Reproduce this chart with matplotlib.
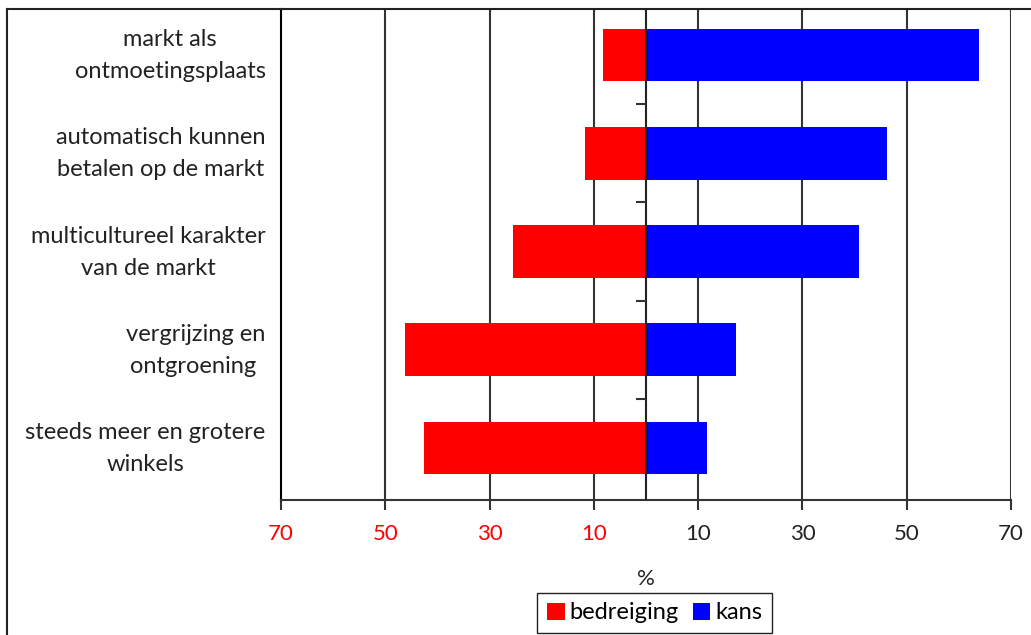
import matplotlib
matplotlib.use("Agg")
import matplotlib.pyplot as plt
from matplotlib.lines import Line2D
from matplotlib.markers import TICKLEFT
from matplotlib.transforms import ScaledTranslation

plt.rcParams["font.family"] = ["Lato", "DejaVu Sans"]

categories = [
    "markt als\nontmoetingsplaats",
    "automatisch kunnen\nbetalen op de markt",
    "multicultureel karakter\nvan de markt",
    "vergrijzing en\nontgroening ",
    "steeds meer en grotere\nwinkels",
]
bedreiging = [8.2, 11.7, 25.6, 46.3, 42.5]
kans = [63.9, 46.2, 40.8, 17.2, 11.7]
xticks = [-70, -50, -30, -10, 10, 30, 50, 70]
xticklabels = ["70", "50", "30", "10", "10", "30", "50", "70"]

fig = plt.figure(figsize=(10.31, 6.35), dpi=100)
ax = fig.add_axes([281 / 1031, 1 - 500 / 635, 730 / 1031, 491 / 635])

pos = list(range(len(categories)))
ax.barh(pos, [-v for v in bedreiging], height=0.535, color="#ff0000", label="bedreiging", zorder=3)
ax.barh(pos, kans, height=0.535, color="#0000ff", label="kans", zorder=3)

ax.set_xlim(-70, 70)
ax.set_ylim(4.53, -0.47)

# grid lines
for x in [-50, -30, -10, 10, 30, 50, 70]:
    ax.axvline(x, color="#333333", lw=1.5, zorder=1)
ax.axvline(0, color="#222222", lw=1.5, zorder=4)
# small ticks on the zero line between categories
for b in [0.5, 1.5, 2.5, 3.5]:
    ax.plot(0, b, marker=TICKLEFT, markersize=7, mew=1.5, color="#333333", zorder=4)

ax.set_xticks(xticks)
ax.set_xticklabels(xticklabels, fontsize=16)
for lab, t in zip(ax.get_xticklabels(), xticks):
    lab.set_color("#ff0000" if t < 0 else "#222222")
ax.tick_params(axis="x", length=7, width=1.5, pad=10, color="#333333")

ax.set_yticks(pos)
ax.set_yticklabels(categories, fontsize=17, color="#222222", ma="center", linespacing=1.65)
ax.tick_params(axis="y", length=0, pad=11)
# nudge the category labels up a little
shift = ScaledTranslation(0, 7 / 100, fig.dpi_scale_trans)
for lab in ax.get_yticklabels():
    lab.set_transform(lab.get_transform() + shift)

for s in ["top", "right"]:
    ax.spines[s].set_visible(False)
ax.spines["left"].set_linewidth(1.5)
ax.spines["bottom"].set_linewidth(1.5)
ax.spines["bottom"].set_color("#333333")

ax.set_xlabel("%", fontsize=16, labelpad=18, color="#222222")

fig.legend(loc="upper center", bbox_to_anchor=(654.5 / 1031, 1 - 593 / 635), ncol=2,
           fontsize=17, frameon=True, fancybox=False, edgecolor="#222222", framealpha=1,
           handlelength=0.75, handleheight=0.75, handletextpad=0.2, columnspacing=0.6,
           borderpad=0.4, borderaxespad=0)

# outer frame of the picture
fig.add_artist(Line2D([7 / 1031, 7 / 1031], [0, 1 - 9 / 635], color="#222222", lw=1.5))
fig.add_artist(Line2D([7 / 1031, 1], [1 - 9 / 635, 1 - 9 / 635], color="#222222", lw=1.5))

fig.savefig("out.png", dpi=100)
